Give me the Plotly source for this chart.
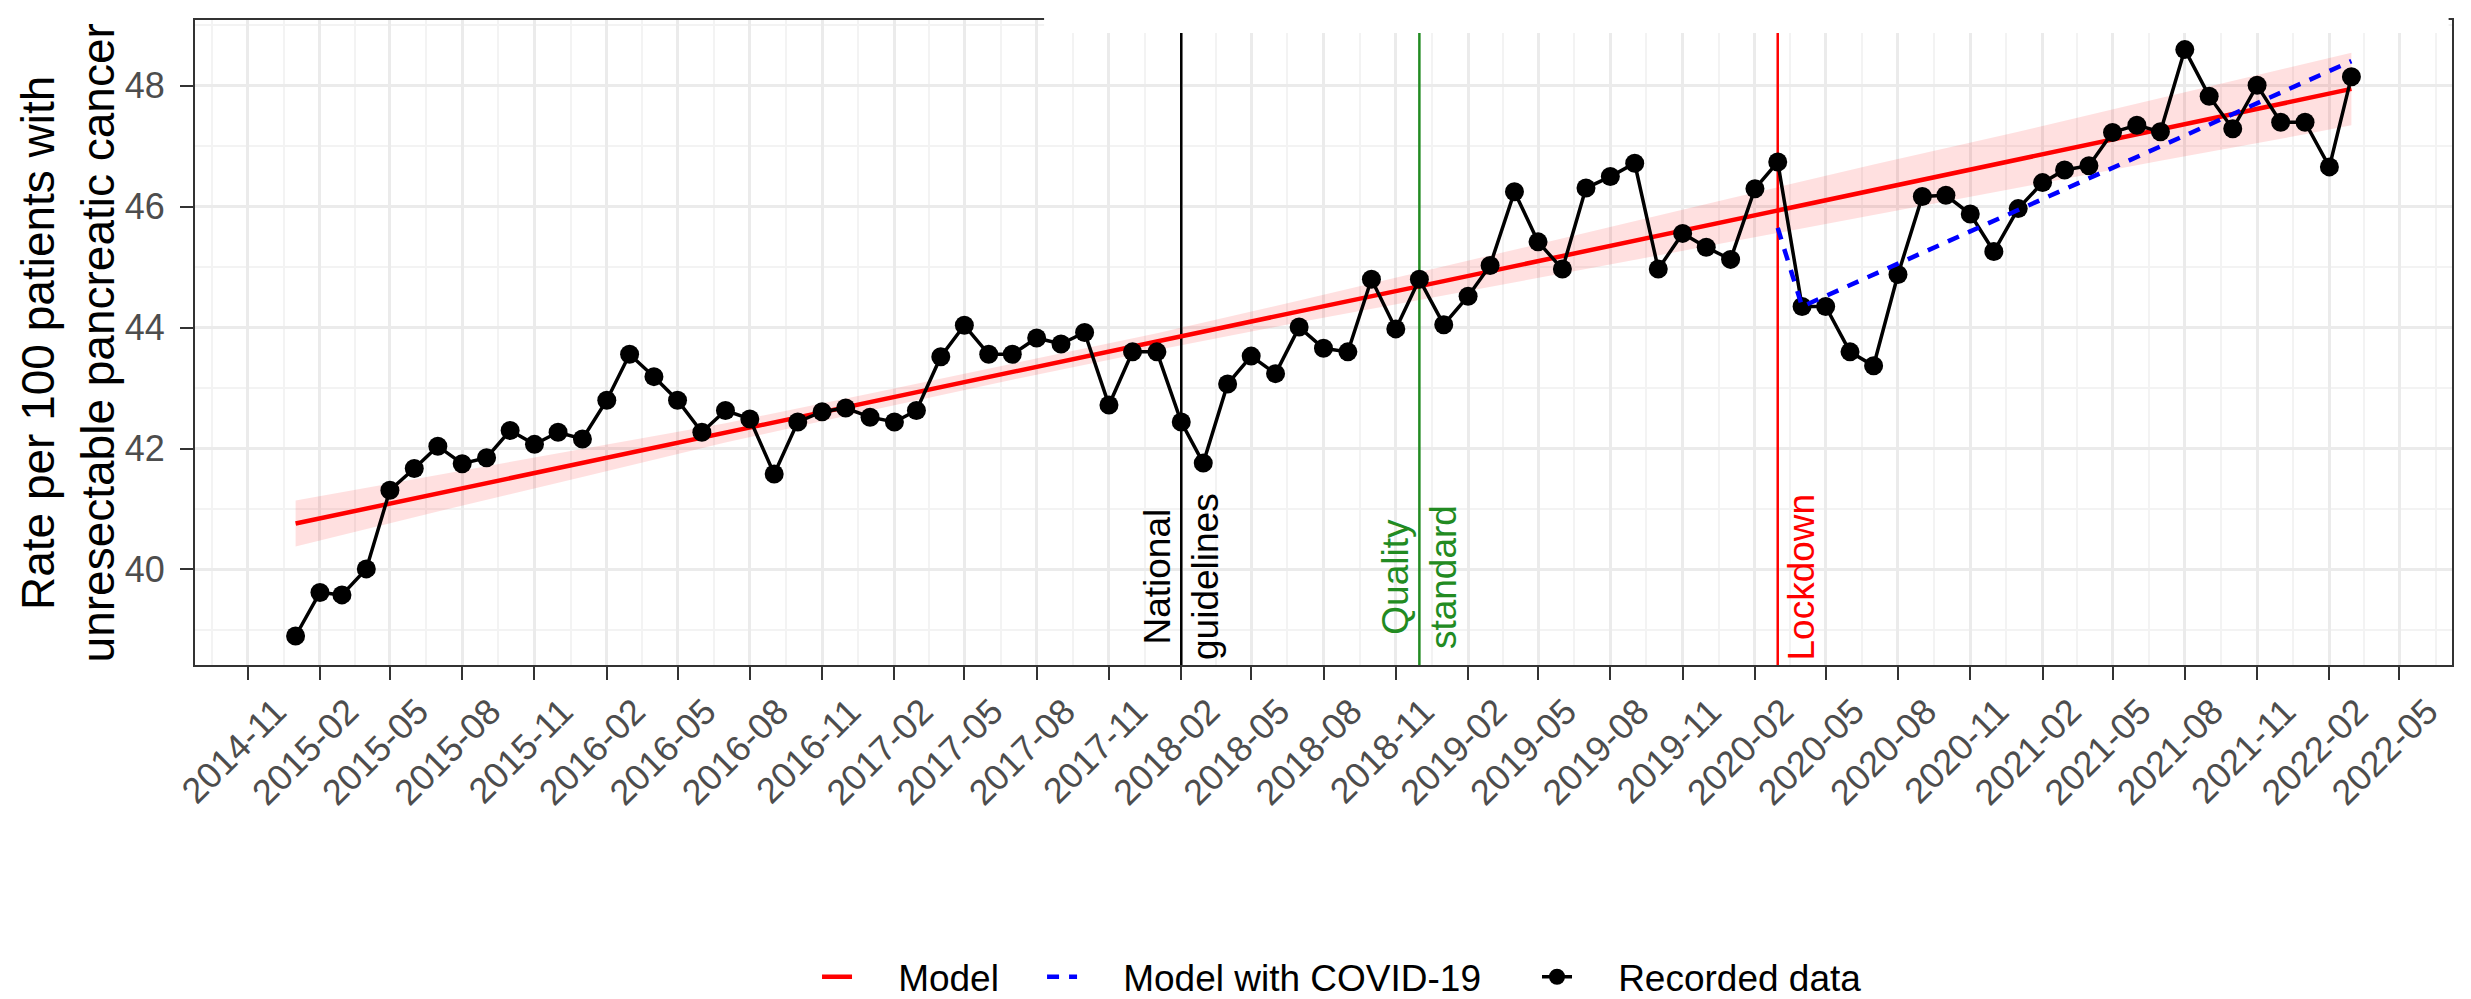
import pandas as pd
import plotly.graph_objects as go

# ---------------- data ----------------
months = pd.date_range("2015-01-01", "2022-03-01", freq="MS")

recorded = [
    38.90, 39.62, 39.58, 40.01, 41.31, 41.67, 42.04, 41.75, 41.85, 42.30, 42.07, 42.27,  # 2015
    42.16, 42.80, 43.56, 43.19, 42.80, 42.27, 42.63, 42.49, 41.58, 42.44, 42.61, 42.67,  # 2016
    42.52, 42.44, 42.63, 43.52, 44.04, 43.56, 43.56, 43.83, 43.73, 43.92, 42.72, 43.60,  # 2017
    43.60, 42.44, 41.76, 43.07, 43.53, 43.24, 44.01, 43.66, 43.60, 44.80, 43.98, 44.80,  # 2018
    44.05, 44.52, 45.03, 46.25, 45.42, 44.97, 46.31, 46.50, 46.72, 44.97, 45.56, 45.33,  # 2019
    45.13, 46.30, 46.74, 44.35, 44.35, 43.60, 43.37, 44.88, 46.17, 46.19, 45.88, 45.26,  # 2020
    45.97, 46.40, 46.61, 46.68, 47.23, 47.35, 47.24, 48.60, 47.83, 47.29, 48.01, 47.40,  # 2021
    47.40, 46.66, 48.15,                                                                  # 2022
]

model_dates = ["2015-01-01", "2015-07-01", "2016-01-01", "2016-07-01", "2017-01-01",
               "2017-07-01", "2018-01-01", "2018-07-01", "2019-01-01", "2019-07-01",
               "2020-01-01", "2020-07-01", "2021-01-01", "2021-07-01", "2022-01-01",
               "2022-03-01"]
model_values = [40.76, 41.26, 41.76, 42.26, 42.77, 43.27, 43.77, 44.27, 44.77, 45.27,
                45.78, 46.28, 46.78, 47.28, 47.78, 47.95]
model_upper = [41.14, 41.56, 41.99, 42.42, 42.91, 43.40, 43.91, 44.45, 45.01, 45.57,
               46.14, 46.70, 47.24, 47.80, 48.36, 48.55]
model_lower = [40.38, 40.96, 41.53, 42.10, 42.63, 43.14, 43.63, 44.09, 44.53, 44.97,
               45.42, 45.86, 46.32, 46.76, 47.20, 47.35]

covid_dates = ["2020-03-01", "2020-04-01", "2022-03-01"]
covid_values = [45.65, 44.35, 48.41]

event_dates = ["2018-02-01", "2018-12-01", "2020-03-01"]
event_labels = ["National<br>guidelines", "Quality<br>standard", "Lockdown"]
event_colors = ["#000000", "#228B22", "#FF0000"]
event_label_y = 39.88

x_tick_start = "2014-11-01"
x_range = ["2014-08-26", "2022-07-07"]
y_range = [38.42, 49.09]
y_major_ticks = [40, 42, 44, 46, 48]
y_minor_ticks = [39, 41, 43, 45, 47, 49]

# ---------------- figure ----------------
FONT = "Liberation Sans, Arial, sans-serif"
NB = "\u00a0" * 4
fig = go.Figure()

# confidence ribbon
fig.add_trace(go.Scatter(
    x=model_dates + model_dates[::-1],
    y=model_upper + model_lower[::-1],
    fill="toself", fillcolor="rgba(255,0,0,0.12)",
    line=dict(width=0), mode="lines", hoverinfo="skip", showlegend=False))

# event vertical lines (full panel height)
for d, col in zip(event_dates, event_colors):
    fig.add_trace(go.Scatter(x=[d, d], y=y_range, mode="lines",
                             line=dict(color=col, width=2.5),
                             hoverinfo="skip", showlegend=False, cliponaxis=True))

fig.add_trace(go.Scatter(
    x=model_dates, y=model_values, mode="lines", name=NB + "Model",
    line=dict(color="#FF0000", width=4.5), legend="legend"))

fig.add_trace(go.Scatter(
    x=months, y=recorded, mode="lines+markers", name=NB + "Recorded data",
    line=dict(color="#000000", width=3.5),
    marker=dict(color="#000000", size=19), legend="legend3"))

fig.add_trace(go.Scatter(
    x=covid_dates, y=covid_values, mode="lines", name=NB + "Model with COVID-19",
    line=dict(color="#0000FF", width=4.5, dash="12px,10px"), legend="legend2"))

# event labels
for d, lab, col in zip(event_dates, event_labels, event_colors):
    fig.add_annotation(x=d, y=event_label_y, xref="x", yref="y", text=lab,
                       textangle=-90, showarrow=False, align="center",
                       xanchor="center", yanchor="middle",
                       xshift=(24 if "<br>" not in lab else 0),
                       font=dict(family=FONT, size=37, color=col))

# y-axis title as annotation
fig.add_annotation(xref="paper", yref="paper", x=-0.0563, y=0.5,
                   text="Rate per 100 patients with<br>unresectable pancreatic cancer",
                   textangle=-90, showarrow=False, align="center",
                   xanchor="center", yanchor="middle",
                   font=dict(family=FONT, size=46, color="#000000"))

# white patch at top-right (as in the reference image)
fig.add_shape(type="rect", xref="paper", yref="paper", x0=0.3762, x1=0.9985,
              y0=0.980, y1=1.05, fillcolor="#FFFFFF", line=dict(width=0), layer="above")

# minor x grid positions: midpoints between 3-month majors (layout only)
majors = pd.date_range("2014-08-01", "2022-08-01", freq="3MS")
minor_x = [(majors[i] + (majors[i + 1] - majors[i]) / 2).strftime("%Y-%m-%d")
           for i in range(len(majors) - 1)]

leg_common = dict(orientation="h", xanchor="left", y=-0.484, yanchor="middle",
                  font=dict(family=FONT, size=37, color="#000000"),
                  bgcolor="rgba(0,0,0,0)")

fig.update_layout(
    width=2471, height=999, autosize=False,
    margin=dict(l=195, r=19, t=20, b=334, autoexpand=False),
    paper_bgcolor="#FFFFFF", plot_bgcolor="#FFFFFF",
    font=dict(family=FONT, color="#000000"),
    showlegend=True,
    legend=dict(x=0.2756, **leg_common),
    legend2=dict(x=0.3753, **leg_common),
    legend3=dict(x=0.5946, **leg_common),
    xaxis=dict(
        type="date", range=x_range, automargin=False,
        tickmode="linear", tick0=x_tick_start, dtick="M3", tickformat="%Y-%m",
        tickangle=-45, tickfont=dict(family=FONT, size=36, color="#4D4D4D"),
        ticks="outside", ticklen=13, tickwidth=2, tickcolor="#333333",
        showgrid=True, gridcolor="#EBEBEB", gridwidth=3,
        minor=dict(tickmode="array", tickvals=minor_x, showgrid=True,
                   gridcolor="#F3F3F3", gridwidth=1.5, ticks=""),
        showline=True, linecolor="#333333", linewidth=2, mirror=True,
        zeroline=False, ticklabelstandoff=-4, ticklabelshift=28),
    yaxis=dict(
        range=y_range, tickmode="array", tickvals=y_major_ticks, automargin=False,
        ticktext=[str(v) for v in y_major_ticks],
        tickfont=dict(family=FONT, size=36, color="#4D4D4D"),
        ticks="outside", ticklen=13, tickwidth=2, tickcolor="#333333",
        showgrid=True, gridcolor="#EBEBEB", gridwidth=3,
        minor=dict(tickmode="array", tickvals=y_minor_ticks, showgrid=True,
                   gridcolor="#F3F3F3", gridwidth=1.5, ticks=""),
        showline=True, linecolor="#333333", linewidth=2, mirror=True,
        zeroline=False, ticklabelstandoff=8),
)

fig.write_html("out.html")
